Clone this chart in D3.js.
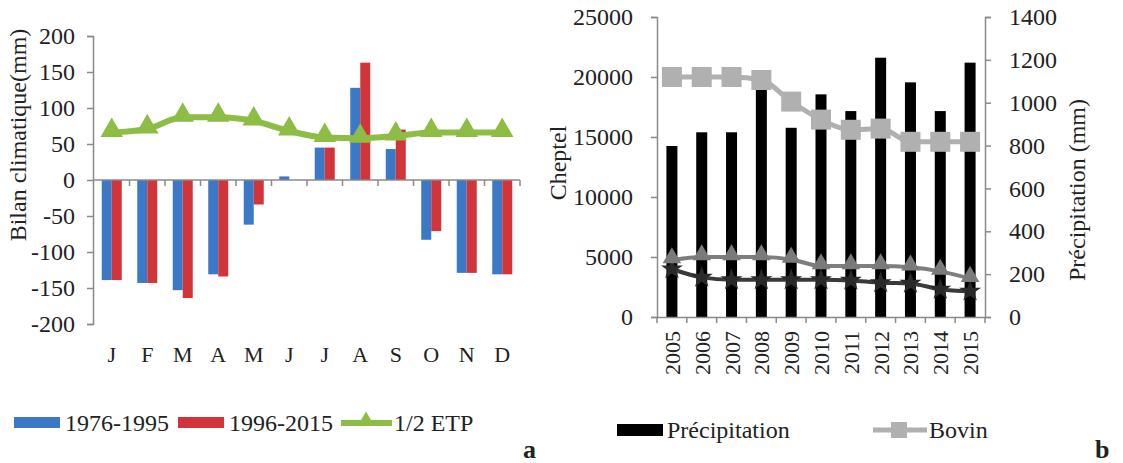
<!DOCTYPE html>
<html>
<head>
<meta charset="utf-8">
<script src="https://cdn.jsdelivr.net/npm/d3@7"></script>
<style>
body { margin:0; background:#fff; }
text { font-family:"Liberation Serif","Times New Roman",serif; fill:#222; }
</style>
</head>
<body>
<div id="chart"></div>
<script>
// panel a : climatic balance
var months = ["J","F","M","A","M","J","J","A","S","O","N","D"];
var bal7695 = [-139,-143,-153,-131,-62,5,45,128,43,-83,-129,-131];
var bal9615 = [-139,-143,-164,-134,-34,0,45,163,70,-71,-129,-131];
var demiEtp = [66,71,87,87,82,68,59,58,61,66,66,66];
var balTicks = [-200,-150,-100,-50,0,50,100,150,200];

// panel b : livestock and rain
var years = ["2005","2006","2007","2008","2009","2010","2011","2012","2013","2014","2015"];
var precip = [798,862,862,1065,883,1039,961,1210,1095,961,1187];
var bovin = [20000,20000,20000,19750,17950,16450,15600,15700,14600,14600,14600];
var serie3 = [4750,5000,5000,5000,4800,4250,4250,4250,4150,3800,3200];
var serie4 = [4000,3300,3100,3100,3100,3100,3050,2850,2800,2300,2150];
var chepTicks = [0,5000,10000,15000,20000,25000];
var precTicks = [0,200,400,600,800,1000,1200,1400];

var W = 1123, H = 463;
var blue = "#3b79c6", red = "#d1353a", green = "#8dbd45";
var axisCol = "#8a8a8a";
var serif = '"Liberation Serif", "Times New Roman", serif';

var svg = d3.select("#chart").append("svg")
	.attr("width", W).attr("height", H);

function styleAxis(g, fs){
	g.attr("font-family", null);
	g.select(".domain").attr("stroke", axisCol).attr("stroke-width", 1.5);
	g.selectAll(".tick line").attr("stroke", axisCol).attr("stroke-width", 1.5);
	g.selectAll(".tick text")
		.style("font-family", serif)
		.style("font-size", fs+"px")
		.attr("fill","#222");
}
var plain = d => String(d);

// ---------- panel a
var xa = d3.scaleBand().domain(d3.range(months.length)).range([94,520]);
var ya = d3.scaleLinear().domain([-200,200]).range([324,36]);

var gy = svg.append("g").attr("transform","translate(93,0)")
	.call(d3.axisLeft(ya).tickValues(balTicks).tickFormat(plain).tickSize(6).tickPadding(12).tickSizeOuter(6));
styleAxis(gy, 24);

var bw = 10;
svg.append("g").selectAll("rect").data(bal7695).join("rect")
	.attr("x",(d,i)=>xa(i)+xa.bandwidth()/2-bw)
	.attr("y",d=>Math.min(ya(d),ya(0)))
	.attr("width",bw)
	.attr("height",d=>Math.abs(ya(d)-ya(0)))
	.attr("fill",blue);
svg.append("g").selectAll("rect").data(bal9615).join("rect")
	.attr("x",(d,i)=>xa(i)+xa.bandwidth()/2)
	.attr("y",d=>Math.min(ya(d),ya(0)))
	.attr("width",bw)
	.attr("height",d=>Math.abs(ya(d)-ya(0)))
	.attr("fill",red);

// zero axis with ticks between months
var gx = svg.append("g").attr("transform",`translate(0,${ya(0)})`);
gx.append("line").attr("x1",93).attr("x2",520).attr("stroke",axisCol).attr("stroke-width",1.5);
gx.selectAll("line.tk").data(d3.range(1,months.length+1)).join("line")
	.attr("class","tk")
	.attr("x1",i=>xa(0)+i*xa.step()).attr("x2",i=>xa(0)+i*xa.step())
	.attr("y1",0).attr("y2",6)
	.attr("stroke",axisCol).attr("stroke-width",1.5);

svg.append("g").selectAll("text").data(months).join("text")
	.attr("x",(d,i)=>xa(i)+xa.bandwidth()/2)
	.attr("y",362)
	.attr("text-anchor","middle")
	.style("font-size","22px")
	.text(d=>d);

var etpLine = d3.line().x((d,i)=>xa(i)+xa.bandwidth()/2).y(d=>ya(d)).curve(d3.curveMonotoneX);
svg.append("path").datum(demiEtp).attr("d",etpLine)
	.attr("fill","none").attr("stroke",green).attr("stroke-width",6);
var tri = d3.symbol().type(d3.symbolTriangle).size(220);
svg.append("g").selectAll("path").data(demiEtp).join("path")
	.attr("transform",(d,i)=>`translate(${xa(i)+xa.bandwidth()/2},${ya(d)-2})`)
	.attr("d",tri).attr("fill",green);

svg.append("text")
	.attr("transform","translate(26,135) rotate(-90)")
	.attr("text-anchor","middle")
	.style("font-size","24px")
	.text("Bilan climatique(mm)");

// legend a
var legA = svg.append("g").attr("transform","translate(0,423)");
legA.append("rect").attr("x",14).attr("y",-6).attr("width",46).attr("height",11).attr("fill",blue);
legA.append("text").attr("x",65).attr("y",8).style("font-size","24px").text("1976-1995");
legA.append("rect").attr("x",178).attr("y",-6).attr("width",46).attr("height",11).attr("fill",red);
legA.append("text").attr("x",229).attr("y",8).style("font-size","24px").text("1996-2015");
legA.append("line").attr("x1",341).attr("x2",392).attr("y1",0).attr("y2",0).attr("stroke",green).attr("stroke-width",6);
legA.append("path").attr("transform","translate(366,-2)").attr("d",d3.symbol().type(d3.symbolTriangle).size(120)).attr("fill",green);
legA.append("text").attr("x",394).attr("y",8).style("font-size","24px").text("1/2 ETP");
svg.append("text").attr("x",523).attr("y",458).style("font-size","26px").style("font-weight","bold").attr("fill","#111").text("a");

// ---------- panel b
var xb = d3.scaleBand().domain(years).range([657,985]);
var yl = d3.scaleLinear().domain([0,25000]).range([317,17]);
var yr = d3.scaleLinear().domain([0,1400]).range([317,17]);

var gl = svg.append("g").attr("transform","translate(657,0)")
	.call(d3.axisLeft(yl).tickValues(chepTicks).tickFormat(plain).tickSize(6).tickPadding(18).tickSizeOuter(6));
styleAxis(gl, 24);
var gr = svg.append("g").attr("transform","translate(985,0)")
	.call(d3.axisRight(yr).tickValues(precTicks).tickFormat(plain).tickSize(6).tickPadding(18).tickSizeOuter(6));
styleAxis(gr, 24);

var bw2 = 11;
svg.append("g").selectAll("rect").data(precip).join("rect")
	.attr("x",(d,i)=>xb(years[i])+xb.bandwidth()/2-bw2/2)
	.attr("y",d=>yr(d))
	.attr("width",bw2)
	.attr("height",d=>yr(0)-yr(d))
	.attr("fill","#000");

var gb = svg.append("g").attr("transform",`translate(0,${yl(0)})`)
	.call(d3.axisBottom(xb).tickSize(0).tickFormat(""));
gb.select(".domain").attr("stroke",axisCol).attr("stroke-width",1.5);
gb.selectAll("line.tk").data(d3.range(0,years.length+1)).join("line")
	.attr("class","tk")
	.attr("x1",i=>657+i*xb.step()).attr("x2",i=>657+i*xb.step())
	.attr("y1",0).attr("y2",6)
	.attr("stroke",axisCol).attr("stroke-width",1.5);

svg.append("g").selectAll("text").data(years).join("text")
	.attr("transform",d=>`translate(${xb(d)+xb.bandwidth()/2+8},331) rotate(-90)`)
	.attr("text-anchor","end")
	.style("font-size","22px")
	.text(d=>d);

var cx = (d,i)=>xb(years[i])+xb.bandwidth()/2;
var lineL = d3.line().x(cx).y(d=>yl(d)).curve(d3.curveMonotoneX);

svg.append("path").datum(serie4).attr("d",lineL)
	.attr("fill","none").attr("stroke","#3a3a3a").attr("stroke-width",4);
svg.append("g").selectAll("path").data(serie4).join("path")
	.attr("transform",(d,i)=>`translate(${cx(d,i)},${yl(d)})`)
	.attr("d",d3.symbol().type(d3.symbolStar).size(150)).attr("fill","#2a2a2a");

svg.append("path").datum(serie3).attr("d",lineL)
	.attr("fill","none").attr("stroke","#7e7e7e").attr("stroke-width",4);
svg.append("g").selectAll("path").data(serie3).join("path")
	.attr("transform",(d,i)=>`translate(${cx(d,i)},${yl(d)-2})`)
	.attr("d",d3.symbol().type(d3.symbolTriangle).size(150)).attr("fill","#7a7a7a");

svg.append("path").datum(bovin).attr("d",lineL)
	.attr("fill","none").attr("stroke","#b0b0b0").attr("stroke-width",5);
svg.append("g").selectAll("rect").data(bovin).join("rect")
	.attr("x",(d,i)=>cx(d,i)-10).attr("y",d=>yl(d)-10)
	.attr("width",20).attr("height",20).attr("fill","#b0b0b0");

svg.append("text")
	.attr("transform","translate(566,163) rotate(-90)")
	.attr("text-anchor","middle")
	.style("font-size","24px")
	.text("Cheptel");
svg.append("text")
	.attr("transform","translate(1085,190) rotate(-90)")
	.attr("text-anchor","middle")
	.style("font-size","24px")
	.text("Précipitation (mm)");

// legend b
var legB = svg.append("g").attr("transform","translate(0,430)");
legB.append("rect").attr("x",617).attr("y",-6).attr("width",46).attr("height",12).attr("fill","#000");
legB.append("text").attr("x",667).attr("y",8).style("font-size","24px").text("Précipitation");
legB.append("line").attr("x1",873).attr("x2",927).attr("y1",0).attr("y2",0).attr("stroke","#b0b0b0").attr("stroke-width",5);
legB.append("rect").attr("x",891).attr("y",-8).attr("width",16).attr("height",16).attr("fill","#b0b0b0");
legB.append("text").attr("x",929).attr("y",8).style("font-size","24px").text("Bovin");
svg.append("text").attr("x",1095).attr("y",458).style("font-size","26px").style("font-weight","bold").attr("fill","#111").text("b");
</script>
</body>
</html>
